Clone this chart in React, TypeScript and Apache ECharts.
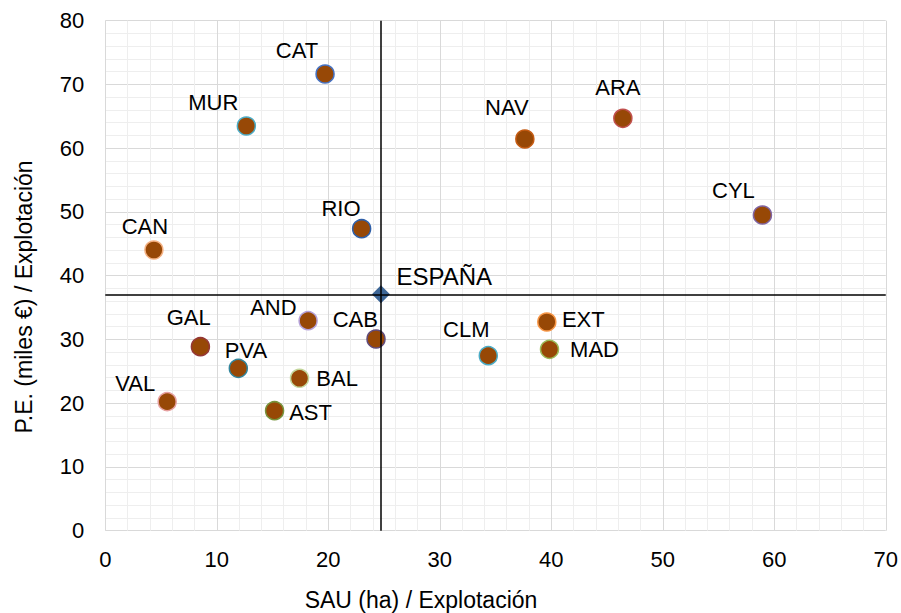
import React, { useEffect, useRef } from "react";
import * as echarts from "echarts";

// ---- data ----
const regions = ["CAT", "MUR", "RIO", "CAN", "GAL", "AND", "CAB", "PVA", "BAL", "AST", "VAL", "CLM", "EXT", "MAD", "NAV", "ARA", "CYL"];
const sauPerFarm = [19.71, 12.65, 22.99, 4.36, 8.53, 18.19, 24.28, 11.93, 17.42, 15.18, 5.55, 34.35, 39.6, 39.84, 37.63, 46.42, 58.94];
const pePerFarm = [71.64, 63.48, 47.37, 44.03, 28.86, 32.94, 30.07, 25.47, 23.91, 18.82, 20.24, 27.45, 32.74, 28.45, 61.44, 64.69, 49.52];
const spainName = "ESPAÑA";
const spainSau = 24.72;
const spainPe = 37.08;
const xTicks = [0, 10, 20, 30, 40, 50, 60, 70];
const yTicks = [0, 10, 20, 30, 40, 50, 60, 70, 80];
const xTitle = "SAU (ha) / Explotación";
const yTitle = "P.E. (miles €) / Explotación";

// ---- styles (not data) ----
const borderColors = ["#4472C4", "#4BACC6", "#2E5FA8", "#F4B183", "#953735", "#B4A0D8", "#604A7B", "#31859C", "#C3D69B", "#77933C", "#E6A0A0", "#4BACC6", "#F79646", "#9BBB59", "#C55A11", "#C0504D", "#8064A2"];
const labelOffsets: [number, number][] = [
  [-28, -23.5], [-33, -23.5], [-20.6, -20], [-9, -23.3], [-11.7, -29], [-34.7, -13], [-20.7, -20], [7.6, -18.3],
  [37.6, 0.7], [36, 2], [-32, -17.7], [-22, -26], [36.5, -2], [45, 0], [-18, -31.5], [-5, -31], [-29, -25],
];

const FONT = "'Liberation Sans', Arial, sans-serif";

export default function App() {
  const ref = useRef<HTMLDivElement>(null);
  useEffect(() => {
    if (!ref.current) return;
    const chart = echarts.init(ref.current, null, { renderer: "svg" });
    const points = regions.map((name, i) => ({
      name,
      value: [sauPerFarm[i], pePerFarm[i]],
      itemStyle: { borderColor: borderColors[i] },
      label: { offset: labelOffsets[i] },
    }));
    chart.setOption({
      animation: false,
      backgroundColor: "#ffffff",
      textStyle: { fontFamily: FONT },
      grid: { left: 105.3, right: 13, top: 20.7, bottom: 82.3, containLabel: false },
      xAxis: {
        type: "value",
        min: xTicks[0],
        max: xTicks[xTicks.length - 1],
        interval: 10,
        axisLine: { show: false },
        axisTick: { show: false },
        axisLabel: { color: "#000", fontSize: 22, fontFamily: FONT, margin: 18 },
        splitLine: { show: true, lineStyle: { color: "#d9d9d9", width: 1 } },
        minorTick: { show: false, splitNumber: 5 },
        minorSplitLine: { show: true, lineStyle: { color: "#eeeeee", width: 1 } },
      },
      yAxis: {
        type: "value",
        min: yTicks[0],
        max: yTicks[yTicks.length - 1],
        interval: 10,
        axisLine: { show: false },
        axisTick: { show: false },
        axisLabel: { color: "#000", fontSize: 22, fontFamily: FONT, margin: 21 },
        splitLine: { show: true, lineStyle: { color: "#d9d9d9", width: 1 } },
        minorTick: { show: false, splitNumber: 5 },
        minorSplitLine: { show: true, lineStyle: { color: "#eeeeee", width: 1 } },
      },
      graphic: [
        {
          type: "text",
          x: 421,
          y: 600,
          style: { text: xTitle, font: `23px ${FONT}`, fill: "#000", textAlign: "center", textVerticalAlign: "middle" },
        },
        {
          type: "text",
          x: 24,
          y: 297,
          rotation: Math.PI / 2,
          style: { text: yTitle, font: `23px ${FONT}`, fill: "#000", textAlign: "center", textVerticalAlign: "middle" },
        },
      ],
      series: [
        {
          type: "scatter",
          name: "ref",
          z: 1,
          data: [],
          markLine: {
            silent: true,
            symbol: "none",
            animation: false,
            label: { show: false },
            lineStyle: { color: "#000", width: 1.5, type: "solid" },
            data: [{ xAxis: spainSau }, { yAxis: spainPe }],
          },
        },
        {
          type: "scatter",
          name: "regiones",
          z: 3,
          symbol: "circle",
          symbolSize: 18,
          itemStyle: { color: "#974806", borderWidth: 1.5, opacity: 1 },
          label: {
            show: true,
            position: "inside",
            formatter: "{b}",
            color: "#000",
            fontSize: 22,
            fontFamily: FONT,
            align: "center",
            verticalAlign: "middle",
          },
          data: points,
        },
        {
          type: "scatter",
          name: "espana",
          z: 4,
          symbol: "diamond",
          symbolSize: 18,
          itemStyle: { color: "#3D6696", opacity: 1 },
          label: {
            show: true,
            position: "inside",
            formatter: "{b}",
            color: "#000",
            fontSize: 24,
            fontFamily: FONT,
            offset: [63.3, -17.5],
          },
          data: [{ name: spainName, value: [spainSau, spainPe] }],
        },
      ],
    });
    return () => chart.dispose();
  }, []);
  return <div ref={ref} style={{ width: 901, height: 613, position: "fixed", left: 0, top: 0 }} />;
}
